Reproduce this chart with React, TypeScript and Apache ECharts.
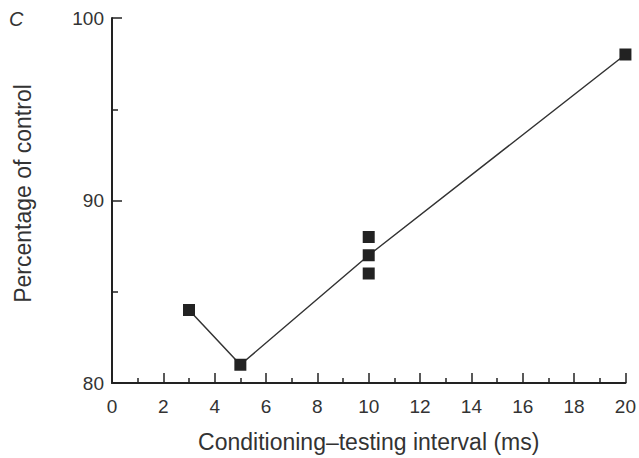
import React, { useEffect, useRef } from "react";
import * as echarts from "echarts";

const xTitle = "Conditioning–testing interval (ms)";
const yTitle = "Percentage of control";
const panelLabel = "C";
const lineData: [number, number][] = [
  [3, 84],
  [5, 81],
  [10, 87],
  [20, 98],
];
const extraPoints: [number, number][] = [
  [10, 88],
  [10, 86],
];

const FONT = "'Liberation Sans', Arial, sans-serif";
const INK = "#222";

export default function App() {
  const ref = useRef<HTMLDivElement>(null);
  useEffect(() => {
    if (!ref.current) return;
    const chart = echarts.init(ref.current, undefined, { renderer: "svg" });
    chart.setOption({
      animation: false,
      backgroundColor: "#fff",
      grid: { left: 112, right: 13, top: 18, bottom: 74 },
      graphic: [
        {
          type: "text",
          left: 9,
          top: 9,
          style: { text: panelLabel, font: `italic 20px ${FONT}`, fill: "#333" },
        },
      ],
      xAxis: {
        type: "value",
        min: 0,
        max: 20,
        interval: 2,
        name: xTitle,
        nameLocation: "middle",
        nameGap: 47,
        nameTextStyle: { fontFamily: FONT, fontSize: 23, color: "#333" },
        axisLine: { show: true, lineStyle: { color: INK, width: 2 } },
        axisTick: { show: true, inside: true, length: 10, lineStyle: { color: INK, width: 1.5 } },
        minorTick: { show: true, splitNumber: 2, length: 5, lineStyle: { color: INK, width: 1.5 } },
        axisLabel: { margin: 14, fontFamily: FONT, fontSize: 19, color: "#333" },
        splitLine: { show: false },
      },
      yAxis: {
        type: "value",
        min: 80,
        max: 100,
        interval: 10,
        name: yTitle,
        nameLocation: "middle",
        nameGap: 78,
        nameRotate: 90,
        nameTextStyle: { fontFamily: FONT, fontSize: 23, color: "#333", padding: [0, 0, 0, 14] },
        axisLine: { show: true, lineStyle: { color: INK, width: 2 } },
        axisTick: { show: true, inside: true, length: 10, lineStyle: { color: INK, width: 1.5 } },
        minorTick: { show: true, splitNumber: 2, length: 6, lineStyle: { color: INK, width: 1.5 } },
        axisLabel: { margin: 8, fontFamily: FONT, fontSize: 19, color: "#333" },
        splitLine: { show: false },
      },
      series: [
        {
          type: "line",
          data: lineData,
          symbol: "rect",
          symbolSize: 12,
          lineStyle: { color: "#333", width: 1.5 },
          itemStyle: { color: INK, opacity: 1 },
          z: 3,
        },
        {
          type: "scatter",
          data: extraPoints,
          symbol: "rect",
          symbolSize: 12,
          itemStyle: { color: INK, opacity: 1 },
          z: 3,
        },
      ],
    });
    return () => chart.dispose();
  }, []);
  return (
    <div
      ref={ref}
      style={{ position: "fixed", left: 0, top: 0, width: 639, height: 458 }}
    />
  );
}
